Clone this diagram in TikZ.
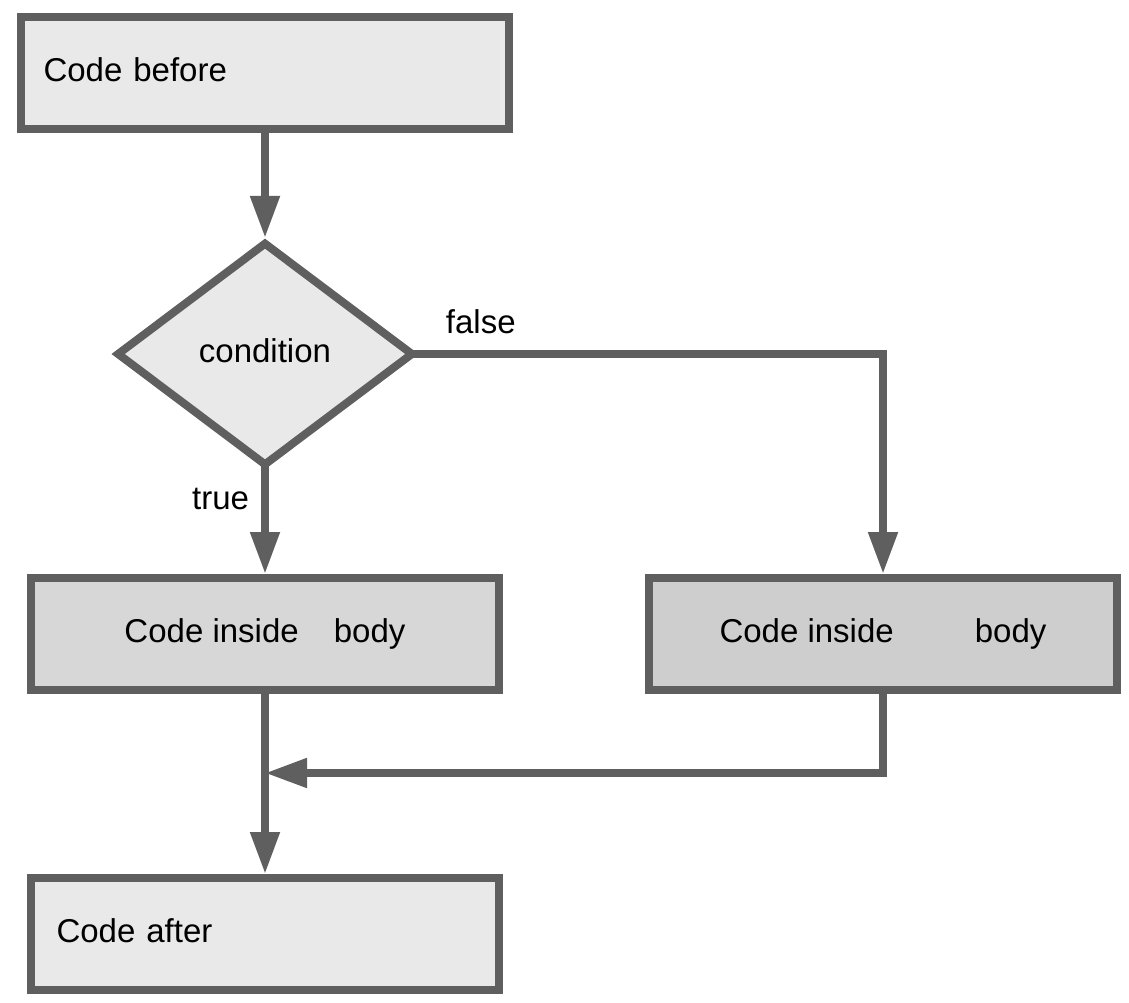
\documentclass[tikz,border=0pt]{standalone}
\usepackage{fontspec}
\setmainfont{Liberation Sans}
\usetikzlibrary{shapes.geometric, positioning, arrows.meta}

\definecolor{edgegray}{HTML}{5F5F5F}
\definecolor{boxlight}{HTML}{E9E9E9}
\definecolor{boxmid}{HTML}{D7D7D7}
\definecolor{boxdark}{HTML}{CECECE}

\tikzset{
    box/.style={draw=edgegray, line width=8pt, rectangle, minimum height=112pt, text height=24pt, text depth=7pt, font=\fontsize{33pt}{40pt}\selectfont},
    lbl/.style={inner sep=0pt, font=\fontsize{33pt}{40pt}\selectfont},
    flow/.style={->, draw=edgegray, line width=8pt}
}

\begin{document}
\begin{tikzpicture}[x=1pt, y=-1pt, >={Triangle[length=42pt, width=28pt]}]
    \useasboundingbox (0,0) rectangle (1129,1003);

    % Code before
    \node[box, fill=boxlight, minimum width=488pt, text width=443pt, inner xsep=22.5pt, align=left] (before) at (265,73) {Code before};

    % Condition
    \node[draw=edgegray, line width=8pt, diamond, fill=boxlight, minimum width=297pt, minimum height=224pt, inner sep=0pt, aspect=1.33, text height=24pt, text depth=7pt, font=\fontsize{33pt}{40pt}\selectfont, below=105pt of before] (cond) {condition};

    % Body, true branch
    \node[box, fill=boxmid, minimum width=468pt, align=center, below=104pt of cond] (bodyT) {Code inside\hspace{26pt} body};

    % Body, false branch
    \node[box, fill=boxdark, minimum width=468pt, align=center, right=142pt of bodyT] (bodyF) {Code inside\hspace{72pt} body};

    % Code after
    \node[box, fill=boxlight, minimum width=468pt, text width=417pt, inner xsep=25.5pt, align=left, below=180pt of bodyT] (after) {Code after};

    % Merge point
    \coordinate[below=79pt of bodyT.south] (merge);

    % Arrows connecting components
    \draw[flow] (before) -- (cond);
    \draw[flow, shorten <=-5pt] (cond.south) -- node[pos=0.28, left=12pt, lbl] {true} (bodyT.north);
    \draw[flow, shorten <=-6pt] (cond.east) -| node[pos=0.068, above=16pt, lbl] {false} (bodyF.north);
    \draw[flow] (bodyF.south) |- (merge);
    \draw[flow] (bodyT.south) -- (after.north);
\end{tikzpicture}
\end{document}
